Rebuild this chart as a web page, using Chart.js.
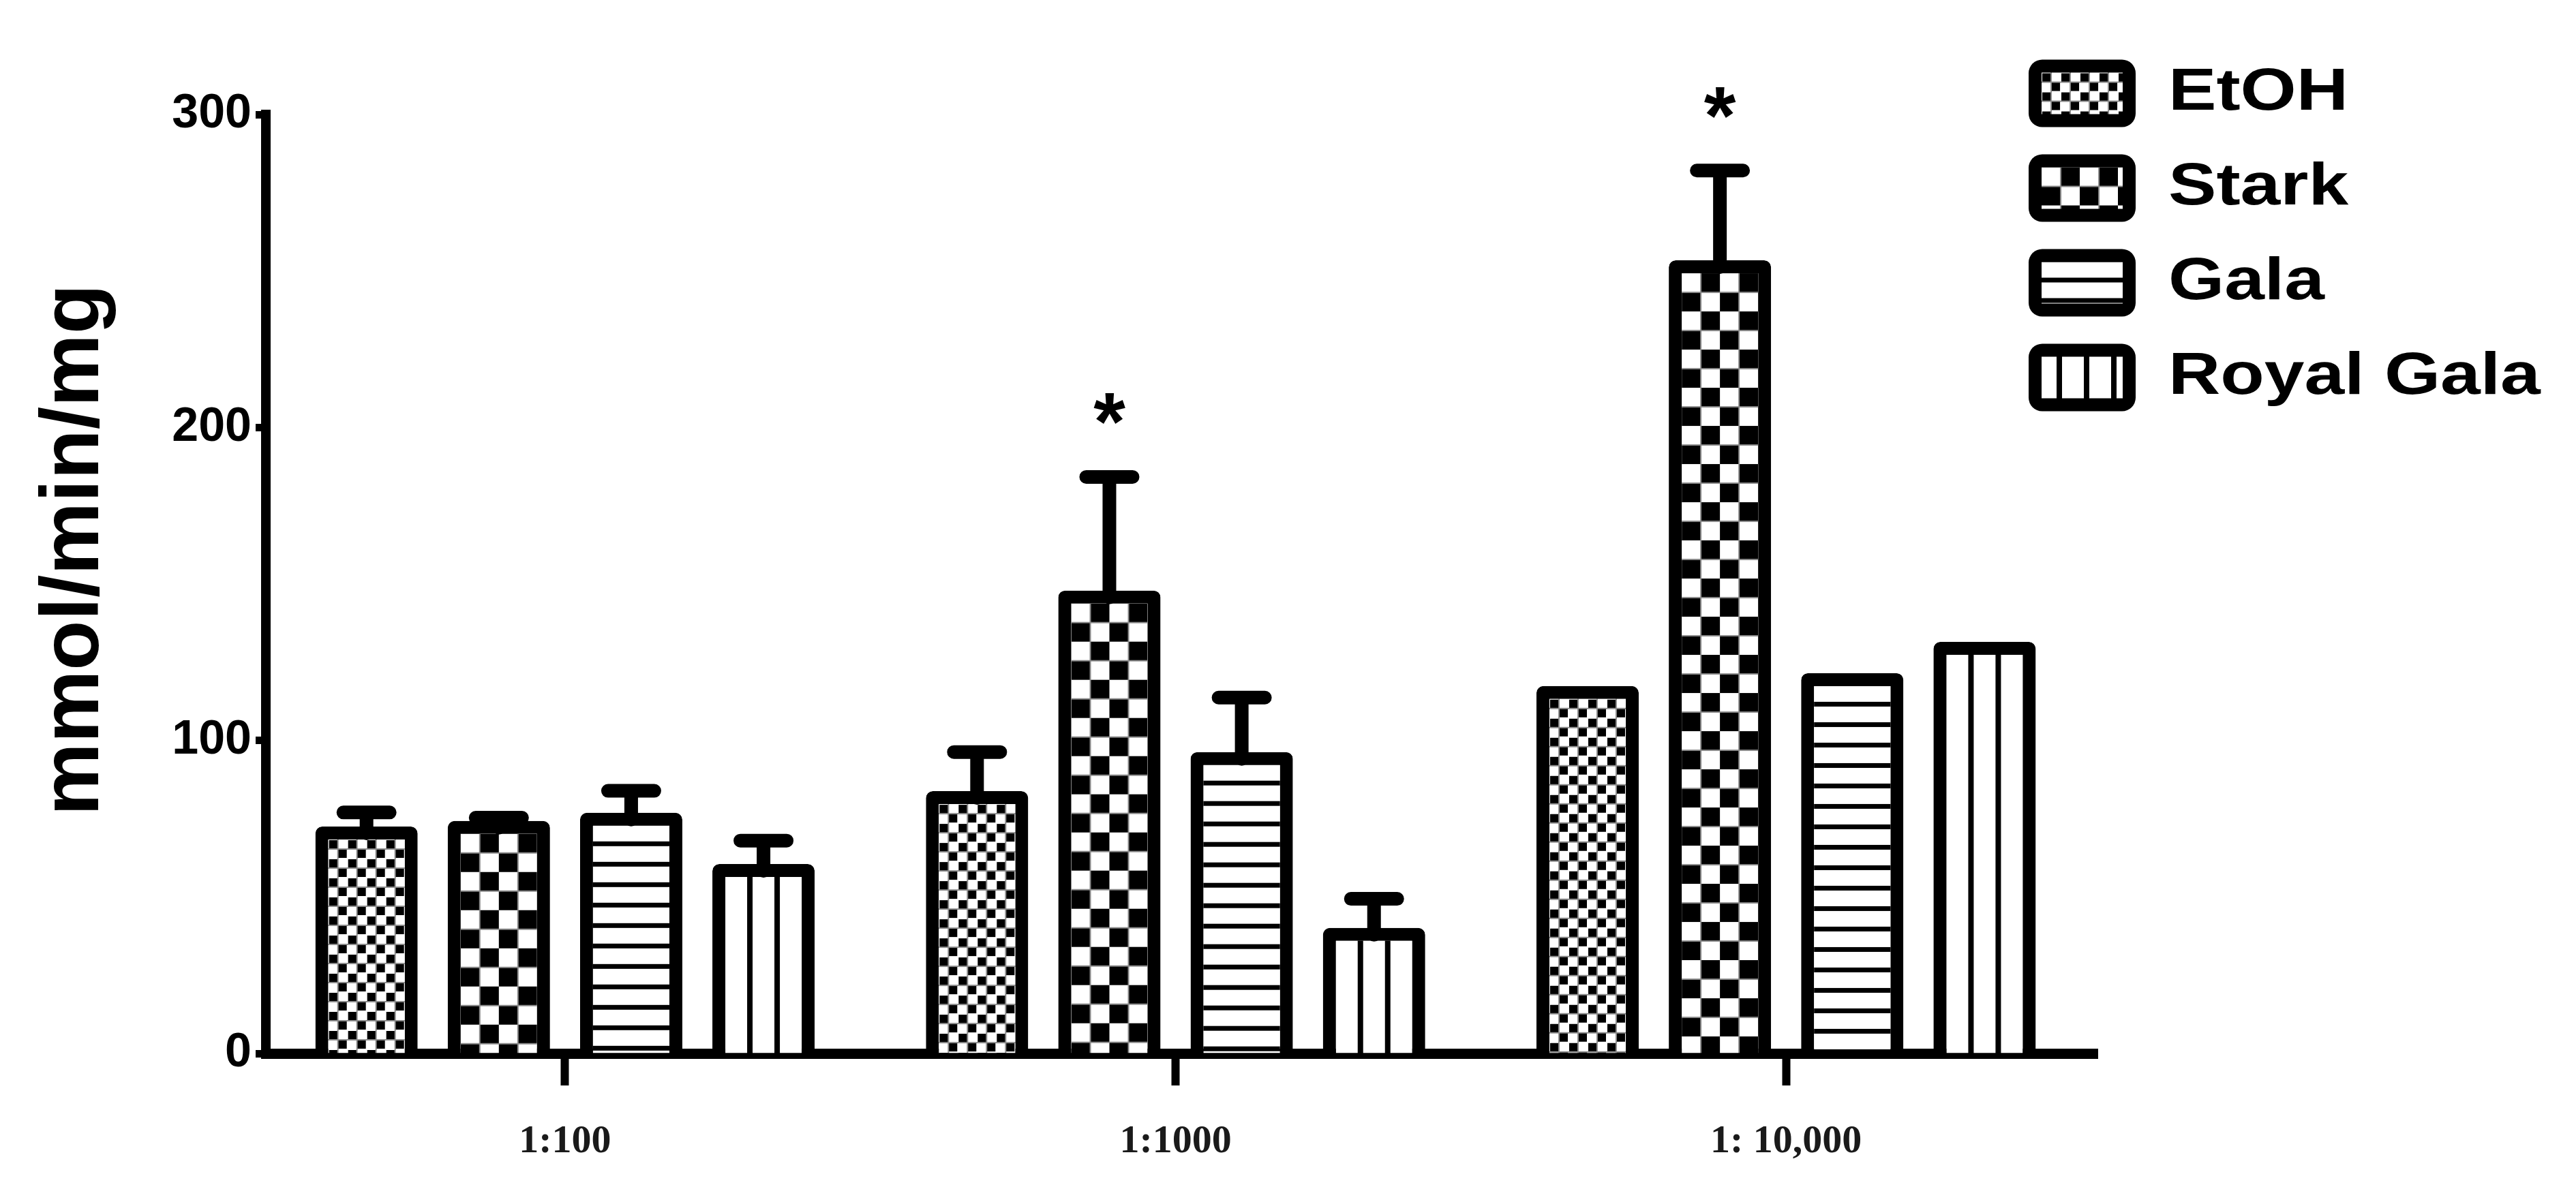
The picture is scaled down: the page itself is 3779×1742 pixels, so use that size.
<!DOCTYPE html>
<html>
<head>
<meta charset="utf-8">
<title>mmol/min/mg</title>
<script src="https://cdn.jsdelivr.net/npm/chart.js@4.4.1/dist/chart.umd.min.js"></script>
<style>
  html, body { margin: 0; padding: 0; background: #fff; }
  #chart { display: block; }
</style>
</head>
<body>
<canvas id="chart" width="3779" height="1742"></canvas>
<script>
/* ============================================================
   DATA
   ============================================================ */
const categories = ['1:100', '1:1000', '1: 10,000'];
const seriesNames = ['EtOH', 'Stark', 'Gala', 'Royal Gala'];

const etoh      = [72.5, 83.8, 117.4];
const stark     = [74.3, 147.9, 253.4];
const gala      = [76.9, 96.3, 121.5];
const royalGala = [60.5, 40.1, 131.5];

// SEM (upper half only, as in the figure)
const etohErr      = [4.5, 12.5, 0];
const starkErr     = [1.0, 36.3, 28.7];
const galaErr      = [7.0, 17.4, 0];
const royalGalaErr = [7.5, 9.3, 0];

// significance marks
const starkSig = ['', '*', '*'];

const yTicks = [0, 100, 200, 300];
const yTitle = 'mmol/min/mg';

/* ============================================================
   PATTERNS — one tile per series
   ============================================================ */
function makeTile(kind) {
  const c = document.createElement('canvas');
  const g = c.getContext('2d');
  if (kind === 'dots') {
    c.width = c.height = 28;
    g.fillStyle = '#fff'; g.fillRect(0, 0, 28, 28);
    g.fillStyle = '#000';
    g.fillRect(1, 1, 12, 12); g.fillRect(15, 15, 12, 12);
    g.fillStyle = '#8c8c8c';
    g.fillRect(0, 13, 28, 2); g.fillRect(13, 0, 2, 28);
  } else if (kind === 'check') {
    c.width = c.height = 56;
    g.fillStyle = '#fff'; g.fillRect(0, 0, 56, 56);
    g.fillStyle = '#000';
    g.fillRect(28, 0, 28, 28); g.fillRect(0, 28, 28, 28);
    g.fillStyle = '#8a8a8a';
    g.fillRect(0, 27, 56, 2); g.fillRect(27, 0, 2, 56);
  } else if (kind === 'hlines') {
    c.width = 30; c.height = 30;
    g.fillStyle = '#fff'; g.fillRect(0, 0, 30, 30);
    g.fillStyle = '#000'; g.fillRect(0, 23, 30, 7);
  } else {
    c.width = 40; c.height = 40;
    g.fillStyle = '#fff'; g.fillRect(0, 0, 40, 40);
    g.fillStyle = '#000'; g.fillRect(32, 0, 8, 40);
  }
  return c;
}
const tiles = [makeTile('dots'), makeTile('check'), makeTile('hlines'), makeTile('vlines')];

/* ============================================================
   PLUGINS
   ============================================================ */
// anchor every bar's pattern to its own inner box
const patternAnchor = {
  id: 'patternAnchor',
  beforeDatasetsDraw(chart) {
    chart.data.datasets.forEach((ds, i) => {
      chart.getDatasetMeta(i).data.forEach(bar => {
        const bg = bar.options.backgroundColor;
        if (bg && bg.setTransform) {
          const bw = bar.options.borderWidth;
          bg.setTransform(new DOMMatrix().translate(bar.x - bar.width / 2 + bw, bar.y + bw));
        }
      });
    });
  }
};

// error bars + asterisks
const errorBars = {
  id: 'errorBars',
  afterDatasetsDraw(chart) {
    const { ctx, scales: { y } } = chart;
    ctx.save();
    ctx.strokeStyle = '#000';
    ctx.lineWidth = 20;
    ctx.lineCap = 'round';
    chart.data.datasets.forEach((ds, i) => {
      chart.getDatasetMeta(i).data.forEach((bar, j) => {
        const err = ds.errors[j];
        const yTop = y.getPixelForValue(ds.data[j] + err);
        if (err) {
          ctx.beginPath();
          ctx.moveTo(bar.x, bar.y + 10);
          ctx.lineTo(bar.x, yTop);
          ctx.moveTo(bar.x - 34, yTop);
          ctx.lineTo(bar.x + 34, yTop);
          ctx.stroke();
        }
        const mark = ds.sig && ds.sig[j];
        if (mark) {
          ctx.font = 'bold 120px "Liberation Sans"';
          ctx.fillStyle = '#000';
          ctx.textAlign = 'center';
          ctx.textBaseline = 'alphabetic';
          const m = ctx.measureText(mark);
          const cy = yTop - 100;
          ctx.fillText(mark, bar.x, cy + (m.actualBoundingBoxAscent - m.actualBoundingBoxDescent) / 2);
        }
      });
    });
    ctx.restore();
  }
};

// rotated y title, placed a bit above the axis middle like the original
const yAxisTitle = {
  id: 'yAxisTitle',
  afterDraw(chart) {
    const { ctx, chartArea } = chart;
    ctx.save();
    ctx.translate(111, chartArea.top + 639);
    ctx.rotate(-Math.PI / 2);
    ctx.fillStyle = '#000';
    ctx.font = 'bold 120px "Liberation Sans"';
    ctx.textAlign = 'center';
    ctx.textBaseline = 'middle';
    ctx.fillText(yTitle, 0, 0);
    ctx.restore();
  }
};

// legend: thick rounded boxes with the series pattern
const boxLegend = {
  id: 'boxLegend',
  afterDraw(chart) {
    const { ctx, chartArea } = chart;
    const x0 = chartArea.right - 101;
    const w = 157, h = 99, bw = 19;
    const shift = [0, 0, 0, -10];
    ctx.save();
    chart.data.datasets.forEach((ds, i) => {
      const cy = chartArea.top - 31 + i * 139;
      const top = cy - h / 2;
      ctx.fillStyle = '#000';
      ctx.beginPath();
      ctx.roundRect(x0, top, w, h, 20);
      ctx.fill();
      const pat = ctx.createPattern(tiles[i], 'repeat');
      pat.setTransform(new DOMMatrix().translate(x0 + bw + shift[i], top + bw));
      ctx.fillStyle = pat;
      ctx.fillRect(x0 + bw, top + bw, w - 2 * bw, h - 2 * bw);
      // the original legend lettering is set wide
      ctx.save();
      ctx.translate(x0 + w + 48, cy);
      ctx.scale(1.2, 1);
      ctx.fillStyle = '#000';
      ctx.font = 'bold 88px "Liberation Sans"';
      ctx.textAlign = 'left';
      ctx.textBaseline = 'middle';
      ctx.fillText(ds.label, 0, 0);
      ctx.restore();
    });
    ctx.restore();
  }
};

/* ============================================================
   CHART
   ============================================================ */
const series = [
  { values: etoh,      errors: etohErr },
  { values: stark,     errors: starkErr, sig: starkSig },
  { values: gala,      errors: galaErr },
  { values: royalGala, errors: royalGalaErr }
];

const datasets = series.map((s, i) => ({
  label: seriesNames[i],
  data: s.values,
  errors: s.errors,
  sig: s.sig,
  backgroundColor: c => c.chart.ctx.createPattern(tiles[c.datasetIndex], 'repeat'),
  borderColor: '#000',
  borderWidth: 19,
  borderRadius: 10,
  categoryPercentage: 0.867,
  barPercentage: 0.773
}));

// the first group sits a touch closer to the y axis than a plain category offset
const xStart = 0.01;

new Chart(document.getElementById('chart'), {
  type: 'bar',
  data: { labels: categories, datasets },
  plugins: [patternAnchor, errorBars, yAxisTitle, boxLegend],
  options: {
    responsive: false,
    devicePixelRatio: 1,
    animation: false,
    events: [],
    layout: { padding: { top: 168, right: 702, left: 0, bottom: 0 } },
    plugins: {
      legend: { display: false },
      tooltip: { enabled: false }
    },
    scales: {
      x: {
        offset: true,
        afterDataLimits: scale => { scale.min = xStart; },
        afterBuildTicks: scale => { scale.ticks = categories.map((c, i) => ({ value: i })); },
        grid: { offset: false, drawOnChartArea: false, drawTicks: true, tickLength: 47, tickWidth: 12, tickColor: '#000' },
        border: { display: true, width: 15, color: '#000' },
        ticks: {
          color: '#1a1a1a',
          font: { family: 'Liberation Serif', size: 58, weight: 'bold' },
          padding: 48,
          maxRotation: 0,
          autoSkip: false
        },
        afterFit: scale => { scale.height = 196; }
      },
      y: {
        min: 0,
        max: 300,
        afterBuildTicks: scale => { scale.ticks = yTicks.map(v => ({ value: v })); },
        grid: { drawOnChartArea: false, tickLength: 15, tickWidth: 11, tickColor: '#000' },
        border: { display: true, width: 14, color: '#000' },
        ticks: {
          color: '#000',
          font: { family: 'Liberation Sans', size: 70, weight: 'bold' },
          padding: 6
        },
        afterFit: scale => { scale.width = 390; }
      }
    }
  }
});
</script>
</body>
</html>
